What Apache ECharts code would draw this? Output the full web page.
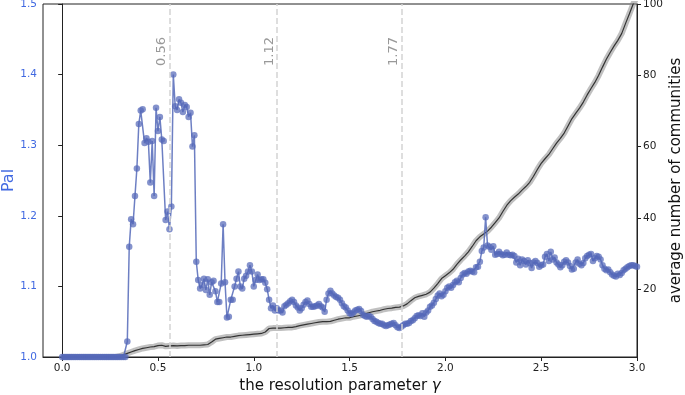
<!DOCTYPE html>
<html>
<head>
<meta charset="utf-8">
<script src="https://cdn.jsdelivr.net/npm/echarts@6/dist/echarts.min.js"></script>
<style>html,body{margin:0;padding:0;background:#fff;}#c{width:685px;height:395px;}</style>
</head>
<body>
<div id="c"></div>
<script>
// gamma grid for the Pal series (step 0.01 from 0 to 3.0)
const palStart = 0.0;
const palStep = 0.01;
const palValues = [
  1.000,1.000,1.000,1.000,1.000,1.000,1.000,1.000,1.000,1.000,
  1.000,1.000,1.000,1.000,1.000,1.000,1.000,1.000,1.000,1.000,
  1.000,1.000,1.000,1.000,1.000,1.000,1.000,1.000,1.000,1.000,
  1.000,1.000,1.000,1.000,
  1.022,1.156,1.195,1.188,1.228,1.267,1.330,1.349,1.351,1.303,
  1.310,1.305,1.247,1.306,1.228,1.353,1.320,1.340,1.308,1.306,
  1.194,1.206,1.181,1.213,1.400,1.355,1.350,1.365,1.360,1.347,
  1.357,1.354,1.340,1.346,1.298,1.314,1.135,1.109,1.097,1.102,
  1.111,1.095,1.110,1.088,1.106,1.108,1.093,1.078,1.078,1.104,
  1.188,1.106,1.056,1.057,1.081,1.081,1.100,1.111,1.121,1.100,
  1.097,1.111,1.115,1.121,1.130,1.121,1.100,1.109,1.117,1.109,
  1.110,1.110,1.105,1.096,1.081,1.069,1.073,1.066,1.069,1.066,
  1.066,1.063,1.072,1.074,1.076,1.079,1.081,1.078,1.073,1.070,
  1.066,1.069,1.074,1.078,1.080,1.075,1.071,1.071,1.072,1.073,
  1.075,1.072,1.070,1.064,1.081,1.090,1.094,1.090,1.087,1.085,
  1.084,1.081,1.076,1.072,1.070,1.066,1.062,1.061,1.063,1.066,
  1.067,1.068,1.065,1.060,1.058,1.057,1.058,1.057,1.054,1.051,
  1.050,1.048,1.047,1.047,1.045,1.044,1.045,1.046,1.047,1.048,
  1.045,1.042,1.041,1.043,1.045,1.047,1.047,1.048,1.051,1.052,
  1.055,1.058,1.059,1.058,1.062,1.057,1.063,1.066,1.071,1.073,
  1.077,1.082,1.087,1.090,1.086,1.088,1.093,1.098,1.100,1.098,
  1.102,1.106,1.108,1.106,1.112,1.117,1.119,1.118,1.121,1.122,
  1.121,1.120,1.127,1.128,1.135,1.150,1.155,1.198,1.158,1.156,
  1.152,1.157,1.145,1.146,1.149,1.146,1.144,1.145,1.148,1.145,
  1.144,1.145,1.143,1.134,1.139,1.130,1.138,1.136,1.131,1.137,
  1.133,1.126,1.134,1.136,1.133,1.128,1.130,1.131,1.142,1.146,
  1.136,1.149,1.138,1.141,1.134,1.131,1.127,1.130,1.135,1.137,
  1.134,1.129,1.124,1.125,1.134,1.138,1.132,1.130,1.133,1.140,
  1.143,1.145,1.146,1.136,1.140,1.143,1.142,1.138,1.130,1.125,
  1.123,1.124,1.120,1.117,1.115,1.114,1.118,1.116,1.119,1.123,
  1.125,1.127,1.129,1.130,1.130,1.129,1.128
];

// average number of communities (step 0.02 from 0 to 3.0)
const commStart = 0.0;
const commStep = 0.02;
const commValues = [
  1.0,1.0,1.0,1.0,1.0,1.0,1.0,1.0,1.0,1.0,
  1.0,1.0,1.0,1.0,1.0,1.2,1.6,2.0,2.4,2.8,
  3.1,3.4,3.6,3.8,3.9,4.2,4.3,4.0,4.1,4.2,
  4.1,4.2,4.2,4.3,4.3,4.3,4.3,4.4,4.5,5.2,
  6.0,6.2,6.4,6.6,6.6,6.8,7.0,7.1,7.2,7.3,
  7.4,7.5,7.6,8.0,9.0,9.1,9.1,9.1,9.2,9.3,
  9.3,9.5,9.8,10.0,10.2,10.4,10.6,10.8,10.9,10.9,
  11.0,11.3,11.6,11.8,12.0,12.0,12.3,12.5,12.7,13.1,
  13.4,13.7,13.9,14.1,14.4,14.6,14.7,14.9,15.0,15.3,
  15.9,16.8,17.6,18.0,18.3,18.6,19.2,20.3,21.6,23.0,
  23.8,24.6,25.6,27.0,28.2,29.3,30.5,32.0,33.6,34.7,
  35.5,36.3,37.4,38.7,40.0,41.8,43.5,44.8,45.8,46.7,
  47.8,48.8,50.0,51.7,53.6,55.3,56.6,57.8,59.4,61.0,
  62.3,63.8,65.8,67.8,69.3,70.8,72.5,74.5,76.3,78.0,
  80.0,82.3,84.5,86.4,88.2,89.8,91.7,94.5,97.2,100.0,
  102.0
];

const xTickValues = [0, 0.5, 1.0, 1.5, 2.0, 2.5, 3.0];
const rightTickValues = [20, 40, 60, 80, 100];
const resolutionMarks = [0.56, 1.12, 1.77];

const palData = palValues.map((v, i) => [+(palStart + i * palStep).toFixed(2), v]);
const commData = commValues.map((v, i) => [+(commStart + i * commStep).toFixed(2), v]);

const blue = '#4169E1';
const chart = echarts.init(document.getElementById('c'), null, {renderer: 'canvas'});
chart.setOption({
  animation: false,
  backgroundColor: '#fff',
  grid: {left: 43, right: 48, top: 4, bottom: 38, show: true, borderColor: '#222', borderWidth: 1,
         backgroundColor: 'transparent', containLabel: false, outerBoundsMode: 'none'},
  xAxis: {
    type: 'value', min: -0.1, max: 3.0,
    axisLine: {show: true, onZero: false, lineStyle: {color: '#222'}},
    axisTick: {show: true, length: 4, customValues: xTickValues, lineStyle: {color: '#222'}},
    axisLabel: {customValues: xTickValues, formatter: v => v.toFixed(1), color: '#222', fontFamily: 'DejaVu Sans', fontSize: 10.5, margin: 6},
    splitLine: {show: false},
    name: '{a|the resolution parameter }{b|γ}',
    nameLocation: 'middle', nameGap: 22,
    nameTextStyle: {rich: {
      a: {fontFamily: 'DejaVu Sans', fontSize: 15, color: '#111'},
      b: {fontFamily: 'DejaVu Sans', fontSize: 15, fontStyle: 'italic', color: '#111'}
    }}
  },
  yAxis: [{
    type: 'value', min: 1.0, max: 1.5, interval: 0.1, position: 'left',
    axisLine: {show: true, lineStyle: {color: '#222'}},
    axisTick: {show: true, length: 4, lineStyle: {color: '#222'}},
    axisLabel: {formatter: v => v.toFixed(1), color: blue, fontFamily: 'DejaVu Sans', fontSize: 10.5, margin: 6},
    splitLine: {show: false},
    name: 'Pal', nameLocation: 'middle', nameGap: 26, nameMoveOverlap: false,
    nameTextStyle: {color: blue, fontFamily: 'DejaVu Sans', fontSize: 16}
  }, {
    type: 'value', min: 1, max: 100, position: 'right',
    axisLine: {show: true, lineStyle: {color: '#222'}},
    axisTick: {show: true, length: 4, customValues: rightTickValues, lineStyle: {color: '#222'}},
    axisLabel: {customValues: rightTickValues, color: '#222', fontFamily: 'DejaVu Sans', fontSize: 10.5, margin: 6},
    splitLine: {show: false},
    name: 'average number of communities', nameLocation: 'middle', nameGap: 32, nameMoveOverlap: false,
    nameRotate: 90,
    nameTextStyle: {color: '#111', fontFamily: 'DejaVu Sans', fontSize: 15}
  }],
  series: [{
    type: 'line', yAxisIndex: 1, data: commData, showSymbol: false, silent: true,
    lineStyle: {width: 6, color: 'rgba(140,140,140,0.55)'}, z: 1
  }, {
    type: 'line', yAxisIndex: 1, data: commData, showSymbol: false, silent: true,
    lineStyle: {width: 1.2, color: '#333'}, z: 2
  }, {
    type: 'line', yAxisIndex: 0, data: palData, symbol: 'circle', symbolSize: 6.5, showSymbol: true,
    lineStyle: {width: 1.5, color: 'rgba(84,104,184,0.85)'},
    itemStyle: {color: 'rgba(84,104,184,0.72)', borderWidth: 0}, z: 3,
    markLine: {
      silent: true, symbol: ['none', 'none'],
      lineStyle: {type: 'dashed', color: '#d3d3d3', width: 1.5},
      label: {show: true, position: 'insideEndTop', formatter: p => p.value.toFixed(2), color: '#999', fontFamily: 'DejaVu Sans', fontSize: 13, distance: [33, 1]},
      data: resolutionMarks.map(v => ({xAxis: v}))
    }
  }]
});
</script>
</body>
</html>
